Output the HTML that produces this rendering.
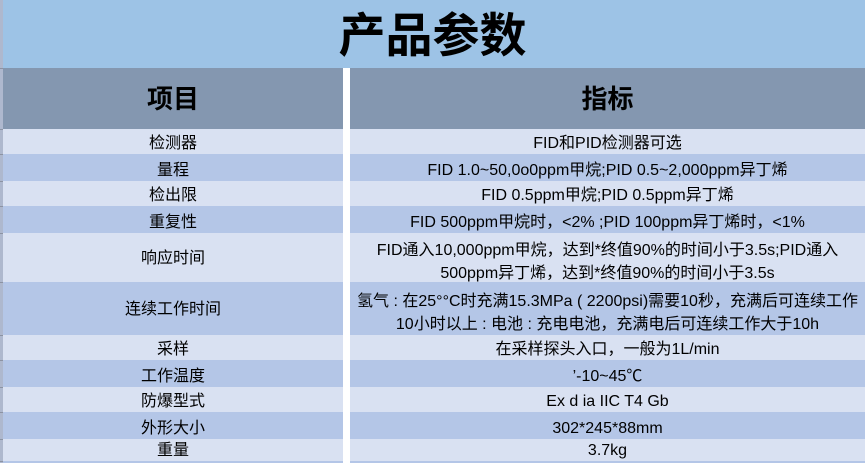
<!DOCTYPE html>
<html><head><meta charset="utf-8">
<style>
html,body{margin:0;padding:0;}
body{width:865px;height:463px;position:relative;overflow:hidden;background:#fff;font-family:"Liberation Sans","Noto Sans CJK SC",sans-serif;color:#000;}
.bg{position:absolute;}
.t{position:absolute;text-align:center;white-space:nowrap;font-size:16px;line-height:22px;}
.L{left:3px;width:340px;}
.R{left:350px;width:515px;}
.lt{background:#D9E1F2;}
.dk{background:#B4C6E7;}
.tick{position:absolute;left:0;width:3px;height:1px;background:#8c93a3;}
</style></head><body>
<div class="bg" style="left:0;top:0;width:865px;height:68px;background:#9DC3E6;"></div>
<div class="t" style="left:0;width:865px;top:8px;font-size:47px;line-height:56px;font-weight:bold;">产品参数</div>
<div class="bg" style="left:3px;top:68px;width:340px;height:61px;background:#8497B0;"></div>
<div class="bg" style="left:350px;top:68px;width:515px;height:61px;background:#8497B0;"></div>
<div class="t L" style="top:82px;font-size:26px;line-height:34px;font-weight:bold;">项目</div>
<div class="t R" style="top:82px;font-size:26px;line-height:34px;font-weight:bold;">指标</div>

<div class="bg lt L" style="top:129px;height:25px;"></div><div class="bg lt R" style="top:129px;height:25px;"></div>
<div class="bg dk L" style="top:154px;height:27px;"></div><div class="bg dk R" style="top:154px;height:27px;"></div>
<div class="bg lt L" style="top:181px;height:25px;"></div><div class="bg lt R" style="top:181px;height:25px;"></div>
<div class="bg dk L" style="top:206px;height:27px;"></div><div class="bg dk R" style="top:206px;height:27px;"></div>
<div class="bg lt L" style="top:233px;height:49px;"></div><div class="bg lt R" style="top:233px;height:49px;"></div>
<div class="bg dk L" style="top:282px;height:53px;"></div><div class="bg dk R" style="top:282px;height:53px;"></div>
<div class="bg lt L" style="top:335px;height:25px;"></div><div class="bg lt R" style="top:335px;height:25px;"></div>
<div class="bg dk L" style="top:360px;height:27px;"></div><div class="bg dk R" style="top:360px;height:27px;"></div>
<div class="bg lt L" style="top:387px;height:25px;"></div><div class="bg lt R" style="top:387px;height:25px;"></div>
<div class="bg dk L" style="top:412px;height:27px;"></div><div class="bg dk R" style="top:412px;height:27px;"></div>
<div class="bg lt L" style="top:439px;height:22px;"></div><div class="bg lt R" style="top:439px;height:22px;"></div>
<div class="bg dk L" style="top:461px;height:2px;"></div><div class="bg dk R" style="top:461px;height:2px;"></div>

<div class="bg" style="left:0;top:0;width:3px;height:463px;background:#AEB8CE;"></div>
<div class="tick" style="top:68px"></div><div class="tick" style="top:129px"></div><div class="tick" style="top:154px"></div>
<div class="tick" style="top:181px"></div><div class="tick" style="top:206px"></div><div class="tick" style="top:233px"></div>
<div class="tick" style="top:282px"></div><div class="tick" style="top:335px"></div><div class="tick" style="top:360px"></div>
<div class="tick" style="top:387px"></div><div class="tick" style="top:412px"></div><div class="tick" style="top:439px"></div>
<div class="tick" style="top:461px"></div>

<div class="t L" style="top:133px;">检测器</div>
<div class="t R" style="top:133px;">FID和PID检测器可选</div>
<div class="t L" style="top:160px;">量程</div>
<div class="t R" style="top:160px;">FID 1.0~50,0o0ppm甲烷;PID 0.5~2,000ppm异丁烯</div>
<div class="t L" style="top:185px;">检出限</div>
<div class="t R" style="top:185px;">FID 0.5ppm甲烷;PID 0.5ppm异丁烯</div>
<div class="t L" style="top:212px;">重复性</div>
<div class="t R" style="top:212px;">FID 500ppm甲烷时，&lt;2% ;PID 100ppm异丁烯时，&lt;1%</div>
<div class="t L" style="top:248px;">响应时间</div>
<div class="t R" style="top:239px;line-height:23px;">FID通入10,000ppm甲烷，达到*终值90%的时间小于3.5s;PID通入<br>500ppm异丁烯，达到*终值90%的时间小于3.5s</div>
<div class="t L" style="top:299px;">连续工作时间</div>
<div class="t R" style="top:290px;line-height:23px;">氢气 : 在25°°C时充满15.3MPa ( 2200psi)需要10秒，充满后可连续工作<br>10小时以上 : 电池 : 充电电池，充满电后可连续工作大于10h</div>
<div class="t L" style="top:339px;">采样</div>
<div class="t R" style="top:339px;">在采样探头入口，一般为1L/min</div>
<div class="t L" style="top:366px;">工作温度</div>
<div class="t R" style="top:366px;">’-10~45℃</div>
<div class="t L" style="top:391px;">防爆型式</div>
<div class="t R" style="top:391px;">Ex d ia IIC T4 Gb</div>
<div class="t L" style="top:418px;">外形大小</div>
<div class="t R" style="top:418px;">302*245*88mm</div>
<div class="t L" style="top:440px;">重量</div>
<div class="t R" style="top:440px;">3.7kg</div>
</body></html>
